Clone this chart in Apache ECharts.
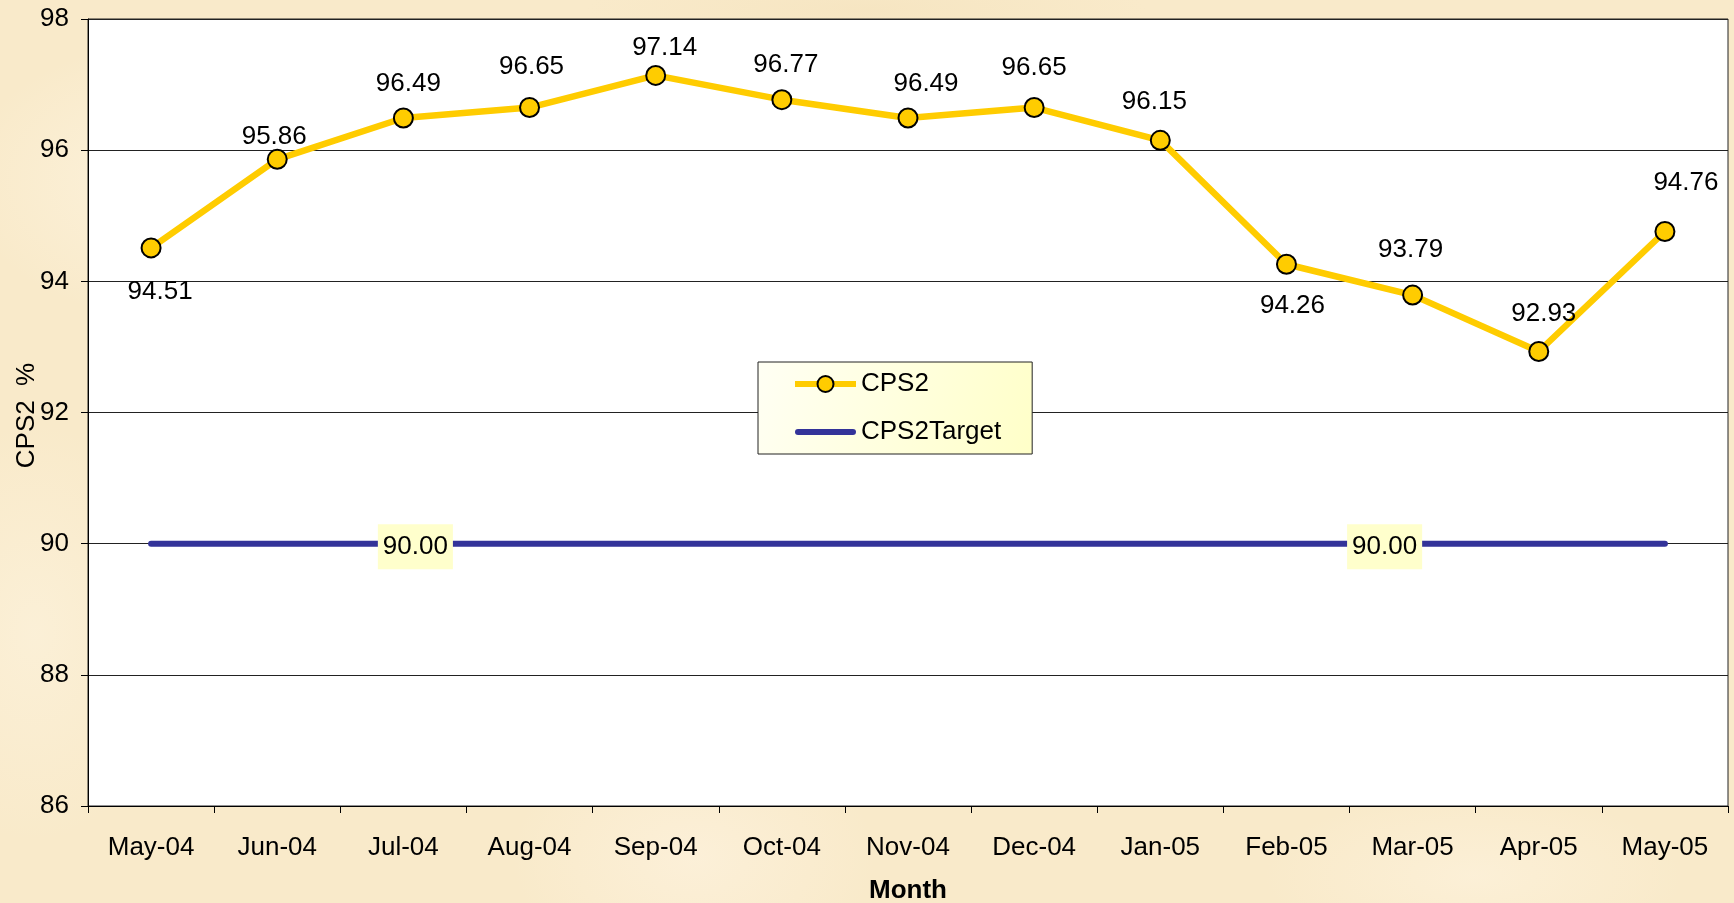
<!DOCTYPE html>
<html>
<head>
<meta charset="utf-8">
<script src="https://cdn.jsdelivr.net/npm/echarts@6/dist/echarts.min.js"></script>
<style>
html,body{margin:0;padding:0;}
body{
  width:1734px;height:903px;overflow:hidden;
  background-color:#F9EACA;
  background-image:
    radial-gradient(ellipse 300px 200px at 10% 20%, rgba(253,244,224,0.8), rgba(253,244,224,0) 70%),
    radial-gradient(ellipse 260px 180px at 40% 95%, rgba(253,242,222,0.7), rgba(253,242,222,0) 70%),
    radial-gradient(ellipse 300px 120px at 85% 97%, rgba(253,242,220,0.7), rgba(253,242,220,0) 70%),
    radial-gradient(ellipse 200px 300px at 2% 70%, rgba(252,242,220,0.7), rgba(252,242,220,0) 70%),
    radial-gradient(ellipse 400px 60px at 50% 1%, rgba(244,226,188,0.6), rgba(244,226,188,0) 70%);
}
#chart{width:1734px;height:903px;}
</style>
</head>
<body>
<div id="chart"></div>
<script>
// ---- data ----
const months = ['May-04','Jun-04','Jul-04','Aug-04','Sep-04','Oct-04','Nov-04','Dec-04','Jan-05','Feb-05','Mar-05','Apr-05','May-05'];
const cps2 = [94.51, 95.86, 96.49, 96.65, 97.14, 96.77, 96.49, 96.65, 96.15, 94.26, 93.79, 92.93, 94.76];
const cps2Target = [90, 90, 90, 90, 90, 90, 90, 90, 90, 90, 90, 90, 90];
const targetLabelIdx = [2, 10];
const yTicks = [86, 88, 90, 92, 94, 96, 98];

// ---- styling (label placement, pixels) ----
const cpsLabelOffsets = [[9,44],[-3,-23],[5,-34],[2,-41],[9,-28],[4,-35],[18,-34],[0,-40],[-6,-39],[6,42],[-2,-45],[5,-38],[21,-49]];
const targetLabelOffsets = [[12,3],[-28,3]];

const FONT = '"Liberation Sans", Arial, sans-serif';
const FS = 26;

const cpsData = cps2.map((v,i)=>({
  value: v,
  label: {offset: cpsLabelOffsets[i]}
}));
const targetMarks = targetLabelIdx.map((idx,k)=>({
  coord: [idx, cps2Target[idx]],
  value: cps2Target[idx],
  label: {offset: targetLabelOffsets[k]}
}));

const chart = echarts.init(document.getElementById('chart'), null, {renderer:'canvas'});
chart.setOption({
  animation:false,
  backgroundColor:'transparent',
  textStyle:{fontFamily:FONT},
  grid:{left:88, top:19, right:6, bottom:97, containLabel:false, outerBoundsMode:'none',
        show:true, backgroundColor:'#ffffff', borderColor:'#222', borderWidth:1},
  legend:{
    left:758, top:362,
    orient:'vertical',
    padding:[9,31,9,34],
    itemWidth:61, itemHeight:20, itemGap:22,
    backgroundColor:new echarts.graphic.LinearGradient(0,0,1,1,[{offset:0,color:'#FFFFF4'},{offset:1,color:'#FFFFC8'}]),
    borderColor:'#222', borderWidth:1,
    lineStyle:{width:6},
    itemStyle:{borderWidth:2, borderColor:'#000'},
    textStyle:{fontSize:FS, color:'#000', fontFamily:FONT},
    data:[
      {name:'CPS2'},
      {name:'CPS2Target', icon:'path://M3,0 H57 A3,3 0 0 1 57,6 H3 A3,3 0 0 1 3,0 Z', itemStyle:{borderWidth:0, color:'#333399'}}
    ]
  },
  xAxis:{
    type:'category', data:months, boundaryGap:true,
    name:'Month', nameLocation:'middle', nameGap:72, nameMoveOverlap:false,
    nameTextStyle:{fontSize:FS, fontWeight:'bold', color:'#000', fontFamily:FONT},
    axisLine:{lineStyle:{color:'#000', width:1}},
    axisTick:{show:true, length:7, lineStyle:{color:'#000'}},
    axisLabel:{fontSize:FS, color:'#000', margin:29, interval:0, fontFamily:FONT},
    splitLine:{show:false}
  },
  yAxis:{
    type:'value', min:yTicks[0], max:yTicks[yTicks.length-1], interval:2,
    name:'CPS2  %', nameLocation:'middle', nameGap:48, nameRotate:90, nameMoveOverlap:false,
    nameTextStyle:{fontSize:FS, color:'#000', fontFamily:FONT, padding:[0,6,0,0]},
    axisLine:{show:true, lineStyle:{color:'#000', width:1}},
    axisTick:{show:true, length:7, lineStyle:{color:'#000'}},
    axisLabel:{fontSize:FS, color:'#000', margin:19, fontFamily:FONT},
    splitLine:{show:true, lineStyle:{color:'#222', width:1}}
  },
  series:[
    {
      name:'CPS2Target', type:'line', data:cps2Target,
      symbol:'none',
      lineStyle:{color:'#333399', width:6, cap:'round'},
      itemStyle:{color:'#333399'},
      z:2,
      markPoint:{
        symbol:'circle', symbolSize:0,
        itemStyle:{color:'rgba(0,0,0,0)'},
        label:{
          show:true, position:'inside', fontSize:FS, color:'#000', fontFamily:FONT,
          backgroundColor:'#FFFFCC', padding:[10,5,9,5],
          formatter:p=>Number(p.value).toFixed(2)
        },
        data:targetMarks
      }
    },
    {
      name:'CPS2', type:'line', data:cpsData,
      symbol:'circle', symbolSize:19,
      lineStyle:{color:'#FFCC00', width:6.5},
      itemStyle:{color:'#FFCC00', borderColor:'#000', borderWidth:2},
      z:3,
      label:{
        show:true, position:'inside', fontSize:FS, color:'#000', fontFamily:FONT,
        formatter:p=>p.value.toFixed(2)
      }
    }
  ]
});
</script>
</body>
</html>
